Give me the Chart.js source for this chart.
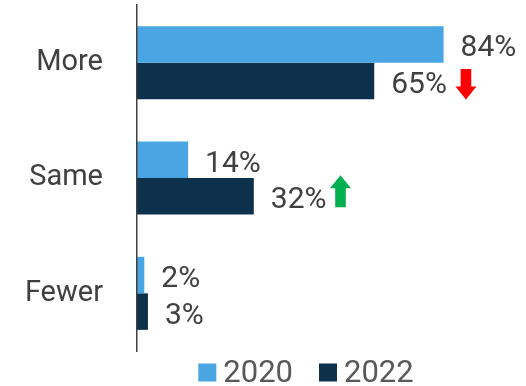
<!DOCTYPE html>
<html>
<head>
<meta charset="utf-8">
<script src="https://cdn.jsdelivr.net/npm/chart.js@4/dist/chart.umd.min.js"></script>
<style>
  html, body { margin:0; padding:0; background:#fff; }
  #wrap { width:526px; height:386px; }
</style>
</head>
<body>
<div id="wrap"><canvas id="chart" width="526" height="386"></canvas></div>
<script>
const categories = ['More', 'Same', 'Fewer'];
const seriesLabels = ['2020', '2022'];
const values2020 = [84, 14, 2];
const values2022 = [65, 32, 3];
// change from 2020 to 2022, shown as an arrow next to the 2022 label
const trend2022 = ['down', 'up', null];

const COLORS = { y2020:'#4aa6e2', y2022:'#0d314b', text:'#404040', legend:'#595959', up:'#00b050', down:'#ff0000' };
const FONT = 'Roboto, "Noto Sans", sans-serif';

// value labels at the end of every bar
const barLabels = {
  id:'barLabels',
  afterDatasetsDraw(chart){
    const ctx = chart.ctx;
    ctx.save();
    ctx.font = `30px ${FONT}`;
    ctx.fillStyle = COLORS.text;
    ctx.textAlign = 'left';
    ctx.textBaseline = 'alphabetic';
    chart.data.datasets.forEach((ds, di) => {
      chart.getDatasetMeta(di).data.forEach((bar, i) => {
        ctx.fillText(`${ds.data[i]}%`, bar.x + 17, bar.y + 12);
      });
    });
    ctx.restore();
  }
};

// up / down arrows after the 2022 labels
const trendArrows = {
  id:'trendArrows',
  afterDatasetsDraw(chart){
    const ctx = chart.ctx;
    const ds = chart.data.datasets[1];
    ctx.save();
    ctx.font = `30px ${FONT}`;
    chart.getDatasetMeta(1).data.forEach((bar, i) => {
      const dir = trend2022[i];
      if (!dir) return;
      const w = ctx.measureText(`${ds.data[i]}%`).width;
      const cx = bar.x + 17 + w + (dir === 'down' ? 19 : 14);
      const sw = 5.3, hw = 10.5, hl = 13;
      let tail, tip;
      if (dir === 'down') { tail = bar.y - 12; tip = bar.y + 18.5; }
      else { tail = bar.y + 11; tip = bar.y - 21; }
      const s = dir === 'down' ? 1 : -1;
      const base = tip - s * hl;
      ctx.beginPath();
      ctx.moveTo(cx - sw, tail);
      ctx.lineTo(cx + sw, tail);
      ctx.lineTo(cx + sw, base);
      ctx.lineTo(cx + hw, base);
      ctx.lineTo(cx, tip);
      ctx.lineTo(cx - hw, base);
      ctx.lineTo(cx - sw, base);
      ctx.closePath();
      ctx.fillStyle = dir === 'down' ? COLORS.down : COLORS.up;
      ctx.fill();
    });
    ctx.restore();
  }
};

// square legend under the plot
const squareLegend = {
  id:'squareLegend',
  afterDraw(chart){
    const ctx = chart.ctx;
    ctx.save();
    ctx.font = `31px ${FONT}`;
    ctx.textBaseline = 'alphabetic';
    ctx.textAlign = 'left';
    const box = 18, gap = 7, spacing = 26;
    const items = chart.data.datasets.map(ds => ({ text:ds.label, color:ds.backgroundColor, w:ctx.measureText(ds.label).width }));
    const total = items.reduce((s, it) => s + box + gap + it.w, 0) + spacing * (items.length - 1);
    let x = 306 - total / 2;
    const baseline = chart.chartArea.bottom + 30.5;
    items.forEach(it => {
      ctx.fillStyle = it.color;
      ctx.fillRect(x, baseline - 18, box, box);
      ctx.fillStyle = COLORS.legend;
      ctx.fillText(it.text, x + box + gap, baseline);
      x += box + gap + it.w + spacing;
    });
    ctx.restore();
  }
};

new Chart(document.getElementById('chart').getContext('2d'), {
  type:'bar',
  data:{
    labels:categories,
    datasets:[
      { label:seriesLabels[0], data:values2020, backgroundColor:COLORS.y2020 },
      { label:seriesLabels[1], data:values2022, backgroundColor:COLORS.y2022 }
    ]
  },
  options:{
    indexAxis:'y',
    responsive:false,
    animation:false,
    datasets:{ bar:{ categoryPercentage:0.633, barPercentage:1.0 } },
    layout:{ padding:{ top:5, right:24, bottom:35, left:0 } },
    plugins:{ legend:{display:false}, tooltip:{enabled:false} },
    scales:{
      x:{ display:false, min:0, max:100 },
      y:{
        grid:{ display:false, drawTicks:false },
        border:{ display:true, color:'#404040', width:1.5, z:1 },
        ticks:{ color:COLORS.text, font:{ family:FONT, size:29 }, padding:34 },
        afterFit(scale){
          scale.width = 137;
          // labels sit inside the plot height, no extra room above/below
          scale.paddingTop = 0;
          scale.paddingBottom = 0;
        }
      }
    }
  },
  plugins:[barLabels, trendArrows, squareLegend]
});
</script>
</body>
</html>
